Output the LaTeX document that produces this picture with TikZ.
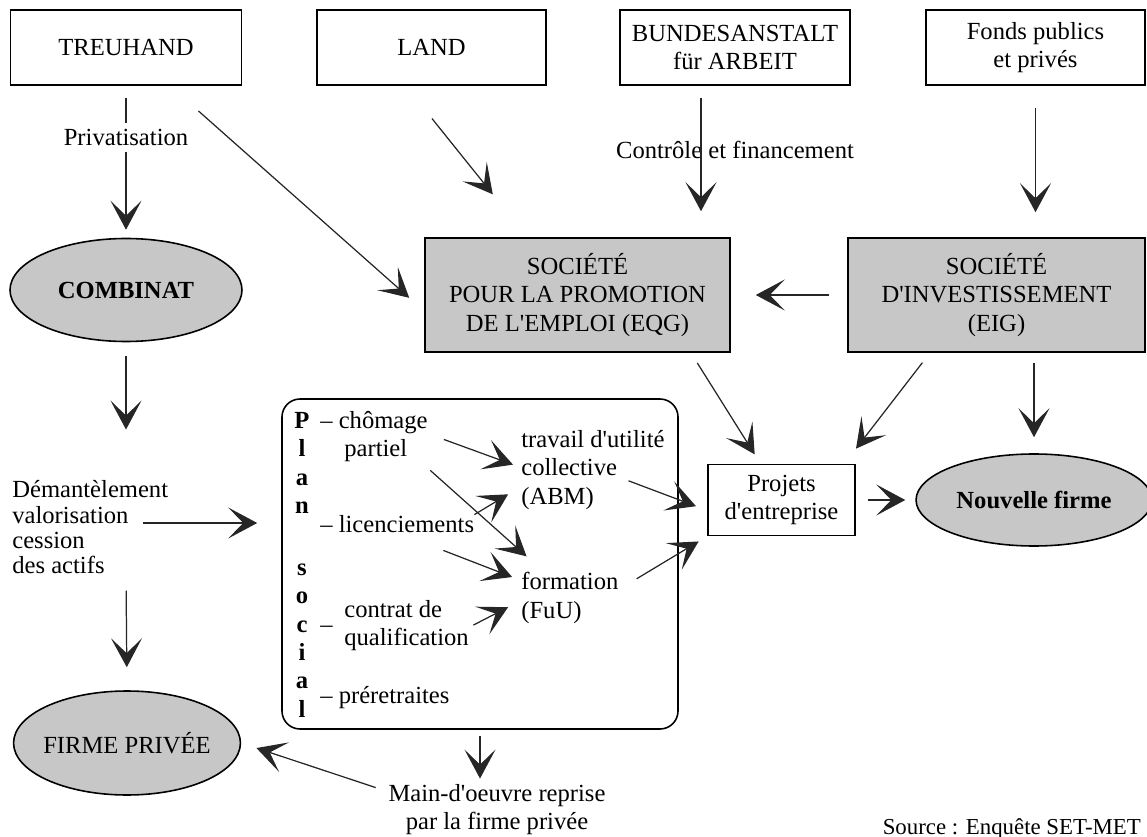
\documentclass[tikz,border=0pt]{standalone}
\usepackage{fontspec}
\setmainfont{Liberation Serif}
\usetikzlibrary{arrows.meta,shapes.geometric}

\newcommand{\apos}{\textquotesingle}

\tikzset{
	box/.style={draw, line width=0.9pt, minimum height=15mm, align=center},
	shadebox/.style={box, fill=black!22, minimum height=22.8mm},
	blob/.style={ellipse, draw, line width=0.9pt, fill=black!22, font=\fontsize{14pt}{16pt}\selectfont\bfseries},
	arr/.style={-{Stealth[length=5.8mm,width=6.2mm,inset=3mm]}, line width=0.7pt, draw=black!85, fill=black!85},
	txt/.style={inner sep=0pt, anchor=base west},
	letter/.style={inner sep=0pt, anchor=base, font=\fontsize{14pt}{16pt}\selectfont\bfseries}
}

\begin{document}
\begin{tikzpicture}[x=0.2mm, y=-0.2mm, font=\fontsize{14pt}{16pt}\selectfont]
			\useasboundingbox (0,0) rectangle (1147,837);

			\node[box, minimum width=46.2mm] (treu) at (126,47.5) {TREUHAND};
			\node[box, minimum width=45.8mm] (land) at (431.5,47.5) {LAND};
			\node[box, minimum width=46mm] (bund) at (735,47.5) {BUNDESANSTALT\\für ARBEIT};
			\node[box, minimum width=43.8mm] (fonds) at (1035.5,47.5) {Fonds publics\\et privés};

			\node[shadebox, minimum width=61mm] (spe) at (577.5,295) {SOCIÉTÉ\\POUR LA PROMOTION\\DE L\apos EMPLOI (EQG)};
			\node[shadebox, minimum width=59.4mm] (sdi) at (996.5,295) {SOCIÉTÉ\\D\apos INVESTISSEMENT\\(EIG)};
			\node[box, minimum width=29.4mm, minimum height=14.2mm] (proj) at (781.5,500) {Projets\\d\apos entreprise};

			\node[blob, minimum width=46.4mm, minimum height=20.6mm] (comb) at (126,290) {COMBINAT};
			\node[blob, minimum width=45.6mm, minimum height=18.4mm] (nouv) at (1034,500) {Nouvelle firme};
			\node[blob, font=\fontsize{14pt}{16pt}\selectfont, inner xsep=-2pt, minimum height=20.8mm] (firme) at (127,743) {FIRME PRIVÉE};

			\node (ctrl) at (735,150) {Contrôle et financement};

			\node[txt] (dem1) at (12,497) {Démantèlement};
			\node[txt] (dem2) at (12,523) {valorisation};
			\node[txt] (dem3) at (12,548) {cession};
			\node[txt] (dem4) at (12,573) {des actifs};

			\node[draw, rounded corners=3.6mm, line width=0.9pt, minimum width=79.2mm, minimum height=66mm] (plan) at (480,564) {};
			\node[letter] (p1) at (302,428) {P};
			\node[letter] (p2) at (302,456.5) {l};
			\node[letter] (p3) at (302,485) {a};
			\node[letter] (p4) at (302,513.5) {n};
			\node[letter] (s1) at (302,575) {s};
			\node[letter] (s2) at (302,603) {o};
			\node[letter] (s3) at (302,632) {c};
			\node[letter] (s4) at (302,660) {i};
			\node[letter] (s5) at (302,688) {a};
			\node[letter] (s6) at (302,717) {l};

			\node[txt] (chom) at (320,428) {– chômage};
			\node[txt] (part) at (344,456) {partiel};
			\node[txt] (lic) at (320,532) {– licenciements};
			\node[txt] (tiret) at (320,632) {–};
			\node[txt] (contr) at (344,617) {contrat de};
			\node[txt] (qual) at (344,645) {qualification};
			\node[txt] (pret) at (320,703) {– préretraites};

			\node[txt] (trav) at (521,448) {travail d\apos utilité};
			\node[txt] (coll) at (521,476) {collective};
			\node[txt] (abm) at (521,504) {(ABM)};
			\node[txt] (form) at (521,589) {formation};
			\node[txt] (fuu) at (521,618) {(FuU)};

			\node[align=center] (main) at (497,810) {Main-d\apos oeuvre reprise\\par la firme privée};
			\node[anchor=base east, font=\fontsize{13pt}{15pt}\selectfont] (src) at (1147,834) {Source : Enquête SET-MET};

			\draw[arr, shorten <=2.4mm, shorten >=1.6mm] (treu.south) -- node[fill=white, pos=0.34] (priv) {Privatisation} (comb.north);
			\draw[arr, shorten <=7.6mm, shorten >=4mm] (treu.-41.4) -- (spe.186);
			\draw[arr, shorten <=8.4mm, shorten >=11mm] (land.-124) -- (spe.131.5);
			\draw[arr, shorten <=2.4mm, shorten >=5.2mm] ([xshift=-6.8mm]bund.south) -- ([xshift=-6.8mm]bund.south |- spe.north);
			\draw[arr, shorten <=4.4mm, shorten >=5mm] (fonds.south) -- (fonds.south |- sdi.north);
			\draw[arr, shorten <=3.6mm, shorten >=5mm] (sdi.west) -- (spe.east);
			\draw[arr, shorten <=2.4mm, shorten >=2.2mm] (spe.-27) -- (proj.120);
			\draw[arr, shorten <=2.5mm, shorten >=3.8mm] (sdi.-139) -- (proj.30);
			\draw[arr, shorten <=2mm, shorten >=3.2mm] (nouv.north |- sdi.south) -- (nouv.north);
			\draw[arr, shorten <=2.4mm, shorten >=2mm] (proj.east) -- (nouv.west);

			\draw[arr, shorten <=2.8mm, shorten >=10mm] (comb.south) -- (comb.south |- dem1.north);
			\draw[arr, shorten <=2.8mm, shorten >=4.8mm] (dem2.base east) -- (dem2.base east -| plan.west);
			\draw[arr, shorten <=3.4mm, shorten >=4.6mm] (comb.south |- dem4.south) -- (firme.north);
			\draw[arr, shorten <=1.2mm] (plan.south) -- (plan.south |- main.north);
			\draw[arr, shorten <=1.4mm, shorten >=3.2mm] (main.170) -- (firme.east);

			\draw[arr, shorten <=3.4mm, shorten >=1.7mm] (chom.south east) -- (coll.west);
			\draw[arr, shorten <=6.1mm, shorten >=4.5mm] (part.east) -- (form.161);
			\draw[arr, shorten >=3mm] (lic.north east) -- (abm.north west);
			\draw[arr, shorten <=9.9mm, shorten >=1.9mm] (lic.south) -- (form.west);
			\draw[arr, shorten <=1mm, shorten >=2.9mm] (qual.north east) -- (fuu.north west);
			\draw[arr, shorten <=2.4mm, shorten >=2.4mm] (coll.south east) -- (proj.-172);
			\draw[arr, shorten <=4.2mm, shorten >=2mm] (form.south east) -- (proj.south west);

		\end{tikzpicture}
\end{document}
